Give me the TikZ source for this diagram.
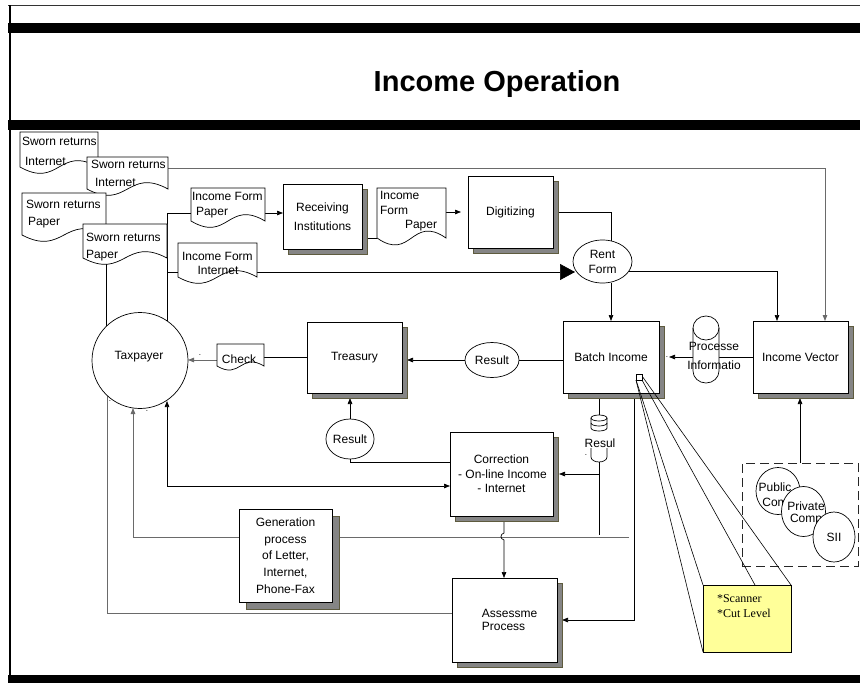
\documentclass[tikz,border=0pt]{standalone}
\usepackage{fontspec}
\setmainfont{Liberation Sans}
\newfontfamily\yserif{Liberation Serif}
\usetikzlibrary{shapes.geometric,arrows.meta,shadows}
\pgfdeclarelayer{paper}
\pgfdeclarelayer{bg}
\pgfsetlayers{paper,bg,main}
\definecolor{shgray}{HTML}{858585}
\definecolor{shedge}{HTML}{5E5B3E}
\definecolor{lgray}{HTML}{6A6A6A}
\definecolor{callout}{HTML}{FFFF99}
% #1 wave amplitude, #2 name, #3 x1, #4 y1, #5 x2, #6 wave base
\newcommand{\docshape}[6][22]{%
  \draw[docst] (#3,#4) -- (#5,#4) -- (#5,#6) .. controls ({(#3+#5)/2},{#6-#1}) and ({(#3+#5)/2},{#6+#1}) .. (#3,#6) -- cycle;
  \coordinate (#2) at ({(#3+#5)/2},{(#4+#6)/2});
}
\tikzset{
  every node/.style={inner sep=0pt, outer sep=0pt, font=\fontsize{12}{14}\selectfont},
  docst/.style={draw=black, line width=0.7pt, fill=white},
  box/.style={draw=black, line width=0.8pt, fill=white, align=center,
     general shadow={fill=shgray, draw=shedge, line width=0.6pt, shadow xshift=#1, shadow yshift=-#1}},
  box/.default=5pt,
  oval/.style={ellipse, draw=black, line width=0.7pt, fill=white, align=center},
  cline/.style={draw=black, line width=0.7pt},
  gline/.style={draw=lgray, line width=0.8pt},
  aend/.style={-{Triangle[length=6pt,width=4.5pt]}},
  aboth/.style={{Triangle[length=6pt,width=4.5pt]}-{Triangle[length=6pt,width=4.5pt]}},
  bigend/.style={-{Triangle[length=15pt,width=16pt]}},
  doctxt/.style={anchor=west},
  tinydot/.style={font=\fontsize{8}{8}\selectfont},
}
\begin{document}
\begin{tikzpicture}[x=1pt,y=-1pt]
\useasboundingbox (0,0) rectangle (860,683);
\begin{pgfonlayer}{paper}
\fill[white] (0,0) rectangle (860,683);
\end{pgfonlayer}
% frame
\draw[line width=1.5pt, black!80] (8,5.5) -- (860,5.5);
\fill (8,23) rectangle (860,33);
\fill (8,120) rectangle (860,130);
\fill (8,675) rectangle (860,683);
\draw[line width=2pt] (10,5) -- (10,675);
\node[font=\bfseries\fontsize{29}{30}\selectfont] (title) at (497,84) {Income Operation};

% documents
\docshape{d1}{20}{132}{98}{167}
\node[doctxt] (t1a) at (22,141) {Sworn returns};
\node[doctxt] (t1b) at (25,161) {Internet};
\docshape{d2}{87}{157}{168}{189}
\node[doctxt] (t2a) at (91,164) {Sworn returns};
\node[doctxt] (t2b) at (95,182) {Internet};
\docshape{d3}{22}{193}{106}{235}
\node[doctxt] (t3a) at (26,204) {Sworn returns};
\node[doctxt] (t3b) at (28,223) {Paper};
\docshape{d4}{83}{224}{167}{258}
\node[doctxt] (t4a) at (86,237) {Sworn returns};
\node[doctxt] (t4b) at (86,256) {Paper};
\docshape{d5}{191}{188}{265}{221}
\node[doctxt] (t5a) at (192,196) {Income Form};
\node[doctxt] (t5b) at (196,213) {Paper};
\docshape{d6}{178}{243}{257}{277}
\node[doctxt] (t6a) at (182,256) {Income Form};
\node (t6b) at (218,270) {Internet};
\docshape[24]{d7}{377}{188}{446}{238}
\node[doctxt] (t7a) at (380,195) {Income};
\node[doctxt] (t7b) at (380,210) {Form};
\node[doctxt] (t7c) at (405,226) {Paper};
\docshape[14]{chk}{217}{344}{264}{366}
\node (tchk) at (239,359) {Check};

% boxes
\node[box, minimum width=79pt, minimum height=65pt, font=\fontsize{12}{19}\selectfont] (recv) at (322.5,216.5) {Receiving\\Institutions};
\node[box, minimum width=85pt, minimum height=72pt] (digit) at (510.5,212) {Digitizing};
\node[box, minimum width=96pt, minimum height=72pt] (batch) at (611,357) {Batch Income};
\node[box, minimum width=95pt, minimum height=72pt] (ivec) at (800.5,357) {Income Vector};
\node[box, minimum width=95pt, minimum height=71pt] (treas) at (354.5,357.5) {Treasury};
\node[box, minimum width=103pt, minimum height=84pt, font=\fontsize{12}{14.5}\selectfont] (corr) at (501.5,474) {Correction\\\,- On-line Income\\- Internet};
\node[box=7pt, minimum width=93pt, minimum height=93pt, font=\fontsize{12}{16.7}\selectfont] (gen) at (285.5,555.5) {Generation\\process\\of Letter,\\Internet,\\Phone-Fax};
\node[box, minimum width=105pt, minimum height=84pt, font=\fontsize{12}{13.5}\selectfont, align=left] (assess) at (504.5,620) {\hspace*{10pt}Assessme\\\hspace*{10pt}Process};

% ellipses and circle
\node[oval, minimum width=59pt, minimum height=43pt, font=\fontsize{12}{15}\selectfont] (rent) at (602.5,261.5) {Rent\\Form};
\node[oval, minimum width=54pt, minimum height=35pt] (res1) at (492,360) {Result};
\node[oval, minimum width=45pt, minimum height=40pt] (res2) at (350,439) {Result};
\node[circle, draw=black, line width=0.7pt, fill=white, minimum size=96pt] (taxp) at (140,360.5) {};
\node (taxptxt) at (139,357) {Taxpayer};

% group of companies
\node[draw=black!85, line width=0.8pt, dash pattern=on 9pt off 5pt, minimum width=116pt, minimum height=103pt] (grp) at (800,514.5) {};
\node[oval, minimum width=44pt, minimum height=47pt] (pub) at (778,491) {};
\node[font=\fontsize{12}{15}\selectfont, align=center] (pubtxt) at (775,495) {Public\\Com};
\node[oval, minimum width=44pt, minimum height=50pt] (priv) at (803.5,511.5) {};
\node[font=\fontsize{12}{12}\selectfont, align=center] (privtxt) at (806,513) {Private\\Comp};
\node[oval, minimum width=42pt, minimum height=50pt] (sii) at (834,537) {SII};

% callout
\node[draw=black, line width=0.8pt, fill=callout, minimum width=88pt, minimum height=67pt] (yel) at (747,618.5) {};
\node[anchor=north west, align=left, font=\yserif\fontsize{12}{15}\selectfont] (yeltxt) at (717,595) {*Scanner\\*Cut Level};
\coordinate (yelTop) at (755,585);
\coordinate (sqpos) at (639,377);
\draw[cline, line width=0.6pt] (636,380) -- (yel.south west);
\draw[cline, line width=0.6pt] (636,380) -- (yel.north west);
\draw[cline, line width=0.6pt] (642,380) -- (yelTop);
\draw[cline, line width=0.6pt] (642,376) -- (yel.north east);
\node[draw=black, line width=0.6pt, fill=white, minimum width=6pt, minimum height=6pt] (sq) at (sqpos) {};

% Processed information cylinder
\draw[cline, fill=white] (693,328) -- (693,371) arc[start angle=180,end angle=0,x radius=13,y radius=12] -- (719,328) arc[start angle=0,end angle=-180,x radius=13,y radius=12] -- cycle;
\draw[cline] (693,328) arc[start angle=180,end angle=0,x radius=13,y radius=12];
\node[font=\fontsize{12}{19}\selectfont, align=center] (proc) at (714,356) {Processe\\Informatio};

% Result database
\draw[cline, fill=white] (591,418) -- (591,428) arc[start angle=180,end angle=0,x radius=8,y radius=3] -- (607,418) arc[start angle=0,end angle=-180,x radius=8,y radius=3] -- cycle;
\draw[cline] (591,418) arc[start angle=180,end angle=0,x radius=8,y radius=3];
\draw[cline] (591,423) arc[start angle=180,end angle=0,x radius=8,y radius=3];
\draw[cline] (591,448) -- (591,457) arc[start angle=180,end angle=0,x radius=8,y radius=5] -- (607,448);
\node (resul) at (600,443) {Resul};
\coordinate (cylTop) at (599,415);
\coordinate (cylBot) at (599,462);

% small marks
\node[tinydot] (dt1) at (200,355) {.};
\node[tinydot] (dt2) at (110,401) {.};
\node[tinydot] (dt3) at (147,411) {.};
\node[tinydot] (dt4) at (667,357) {.};
\node[tinydot] (dt5) at (586,455) {.};

% named connector points
\coordinate (d2e) at (168,168);
\coordinate (d5w) at (191,213);
\coordinate (d5e) at (265,213);
\coordinate (d6w) at (178,272);
\coordinate (d6e) at (257,272);
\coordinate (d7w) at (377,238);
\coordinate (d7e) at (446,212);
\coordinate (chkw) at (217,360);
\coordinate (chke) at (264,357.5);
\coordinate (tp167) at (167,321);
\coordinate (tp106) at (106,327);
\coordinate (d4b106) at (106,250);
\coordinate (tpb107) at (107,395);
\coordinate (tpb133) at (133,408);
\coordinate (tpb167) at (167,401);
\coordinate (a613) at (452,613);
\coordinate (l537e) at (629,537);
\coordinate (corrw486) at (450,486);
\coordinate (corrw462) at (450,462);
\coordinate (corrE) at (559,474);
\coordinate (br474) at (599,474);
\coordinate (l537c) at (599,535);
\coordinate (batchB599) at (599,393);
\coordinate (batchB634) at (634,393);
\coordinate (assessE) at (562,620);
\coordinate (rentN611) at (611,241);
\coordinate (rentE) at (629,271);
\coordinate (rentW) at (575,272);
\coordinate (digW) at (461,212);
\coordinate (corrS) at (504,516);
\coordinate (assessN) at (504,578);
\coordinate (treasSE) at (407,357.5);
\coordinate (treasSB) at (354.5,398);
\coordinate (ivecSB) at (800.5,398);
\coordinate (ivecN825) at (825,321);
\coordinate (ivecN777) at (777,321);
\coordinate (batchE) at (669,357);
\coordinate (hopA) at (504,533);
\coordinate (hopB) at (504,540);

\begin{pgfonlayer}{bg}
\draw[gline, aend] (d2e) -| (ivecN825);
\draw[cline] (tp167) |- (d5w);
\draw[cline] (tp167 |- d6w) -- (d6w);
\draw[cline] (d4b106) -- (tp106);
\draw[gline] (tpb107) |- (a613);
\draw[gline, aend] (l537e) -| (tpb133);
\draw[cline, aboth] (tpb167) |- (corrw486);
\draw[gline, aend] (chkw) -- (chkw -| taxp.east);
\draw[cline] (treas.west) -- (chke);
\draw[cline] (batch.west |- res1.east) -- (res1.east);
\draw[cline, aend] (res1.west) -- (res1.west -| treasSE);
\draw[cline, aend] (res2.north) -- (res2.north |- treasSB);
\draw[cline] (res2.south) |- (corrw462);
\draw[cline, aend] (ivec.west) -- (batchE);
\draw[cline, aend] (batch.north |- rent.south) -- (batch.north);
\draw[cline, aend] (rentE) -| (ivecN777);
\draw[cline] (digit.east) -| (rentN611);
\draw[cline, bigend] (d6e) -- (rentW);
\draw[cline, aend] (d5e) -- (d5e -| recv.west);
\draw[cline] (recv.east |- d7w) -- (d7w);
\draw[cline, aend] (d7e) -- (digW);
\draw[cline] (batchB599) -- (cylTop);
\draw[cline] (cylBot) -- (l537c);
\draw[cline, aend] (br474) -- (corrE);
\draw[cline, aend] (batchB634) |- (assessE);
\draw[cline, aend] (corrS) -- (hopA) .. controls (500,534) and (500,539) .. (hopB) -- (assessN);
\draw[cline, aend] (grp.north) -- (grp.north |- ivecSB);
\end{pgfonlayer}
\end{tikzpicture}
\end{document}
